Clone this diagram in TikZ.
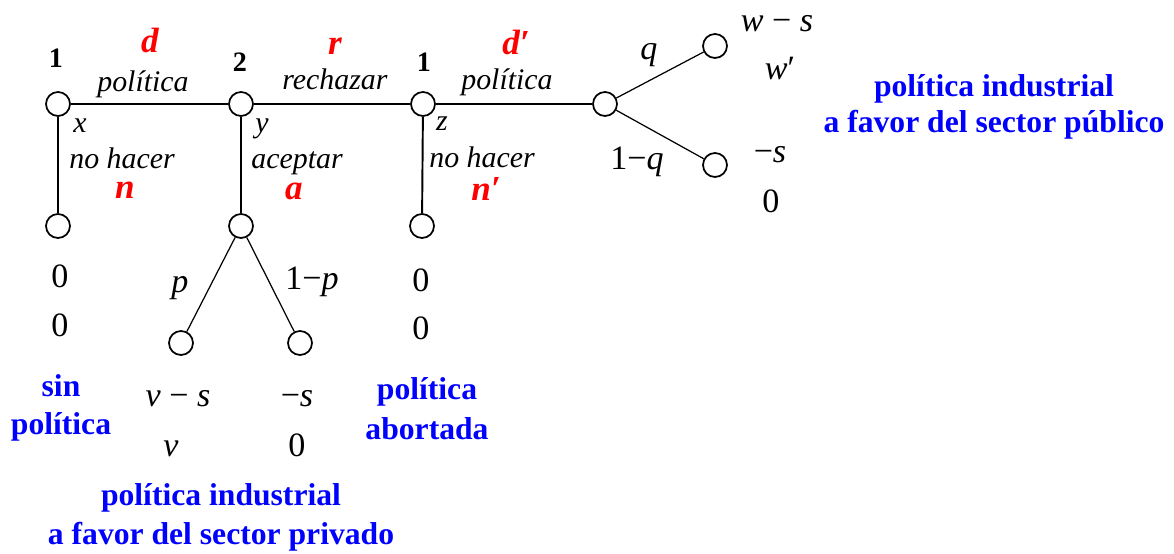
\documentclass[tikz,border=0pt]{standalone}
\usepackage{fontspec}
\setmainfont{Liberation Serif}

\begin{document}
\begin{tikzpicture}[scale=1,
    dot/.style={circle, draw, line width=0.5pt, minimum size=0.24cm, inner sep=0pt, fill=white},
    move/.style={line width=0.55pt},
    chance/.style={line width=0.35pt},
    player/.style={anchor=base, inner sep=0pt, font=\fontsize{8}{10}\selectfont\bfseries},
    act/.style={anchor=base, inner sep=0pt, text=red, font=\fontsize{10}{12}\selectfont\bfseries\itshape},
    lab/.style={anchor=base, inner sep=0pt, font=\fontsize{8.5}{10}\selectfont\itshape},
    pay/.style={anchor=base, inner sep=0pt, font=\fontsize{9.7}{11}\selectfont},
    outcome/.style={anchor=base, inner sep=0pt, text=blue, font=\fontsize{9}{11}\selectfont\bfseries}]
        % \draw[help lines, gray!50, very thin] (0,0) grid (11,5);
        \useasboundingbox (0,0) rectangle (11.74,5.54);

        % decision nodes
        \node[dot] (root) at (0.58,4.50) {};
        \node[dot] (resp) at (2.41,4.50) {};
        \node[dot] (redo) at (4.23,4.50) {};
        \node[dot] (pubnat) at (6.05,4.50) {};
        \node[dot] (endA) at (0.58,3.28) {};
        \node[dot] (privnat) at (2.41,3.28) {};
        \node[dot] (endC) at (4.22,3.28) {};
        \node[dot] (pubhi) at (7.15,5.08) {};
        \node[dot] (publo) at (7.15,3.89) {};
        \node[dot] (privl) at (1.81,2.11) {};
        \node[dot] (privr) at (3.00,2.11) {};

        \draw[move] (root) -- (resp);
        \draw[move] (resp) -- (redo);
        \draw[move] (redo) -- (pubnat);
        \draw[move] (root) -- (endA);
        \draw[move] (resp) -- (privnat);
        \draw[move] (redo) -- (endC);
        \draw[chance] (pubnat) -- (pubhi);
        \draw[chance] (pubnat) -- (publo);
        \draw[chance] (privnat) -- (privl);
        \draw[chance] (privnat) -- (privr);

        % players
        \node[player] (pl1) at (0.56,4.86) {1};
        \node[player] (pl2) at (2.40,4.82) {2};
        \node[player] (pl3) at (4.24,4.82) {1};

        % actions
        \node[act] (actd) at (1.50,5.01) {d};
        \node[lab] (labd) at (1.43,4.62) {política};
        \node[act] (actr) at (3.35,4.99) {r};
        \node[lab] (labr) at (3.35,4.64) {rechazar};
        \node[act] (actdd) at (5.16,4.99) {d′};
        \node[lab] (labdd) at (5.07,4.64) {política};
        \node[lab] (labx) at (0.80,4.21) {x};
        \node[lab] (laby) at (2.62,4.21) {y};
        \node[lab] (labz) at (4.42,4.23) {z};
        \node[lab] (labn) at (1.22,3.85) {no hacer};
        \node[lab] (laba) at (2.97,3.85) {aceptar};
        \node[lab] (labnn) at (4.82,3.86) {no hacer};
        \node[act] (actnn) at (4.86,3.53) {n′};
        \node[act] (actn) at (1.25,3.55) {n};
        \node[act] (acta) at (2.94,3.54) {a};

        % probabilities
        \node[pay] (probq) at (6.49,4.94) {\textit{q}};
        \node[pay] (probqq) at (6.37,3.84) {1−\textit{q}};
        \node[pay] (probp) at (1.80,2.61) {\textit{p}};
        \node[pay] (probpp) at (3.12,2.64) {1−\textit{p}};

        % payoffs
        \node[pay] (payA1) at (0.60,2.66) {0};
        \node[pay] (payA2) at (0.60,2.17) {0};
        \node[pay] (payC1) at (4.21,2.62) {0};
        \node[pay] (payC2) at (4.21,2.14) {0};
        \node[pay] (payhi1) at (7.77,5.22) {\textit{w} − \textit{s}};
        \node[pay] (payhi2) at (7.80,4.74) {\textit{w}′};
        \node[pay] (paylo1) at (7.70,3.91) {−\textit{s}};
        \node[pay] (paylo2) at (7.71,3.41) {0};
        \node[pay] (payl1) at (1.78,1.47) {\textit{v} − \textit{s}};
        \node[pay] (payl2) at (1.71,0.97) {\textit{v}};
        \node[pay] (payr1) at (2.97,1.47) {−\textit{s}};
        \node[pay] (payr2) at (2.97,0.97) {0};

        % outcomes
        \node[outcome] (sin1) at (0.61,1.57) {sin};
        \node[outcome] (sin2) at (0.61,1.19) {política};
        \node[outcome] (abo1) at (4.27,1.54) {política};
        \node[outcome] (abo2) at (4.27,1.14) {abortada};
        \node[outcome] (priv1) at (2.21,0.48) {política industrial};
        \node[outcome] (priv2) at (2.21,0.09) {a favor del sector privado};
        \node[outcome] (pub1) at (9.94,4.57) {política industrial};
        \node[outcome] (pub2) at (9.94,4.21) {a favor del sector público};
      \end{tikzpicture}
\end{document}
